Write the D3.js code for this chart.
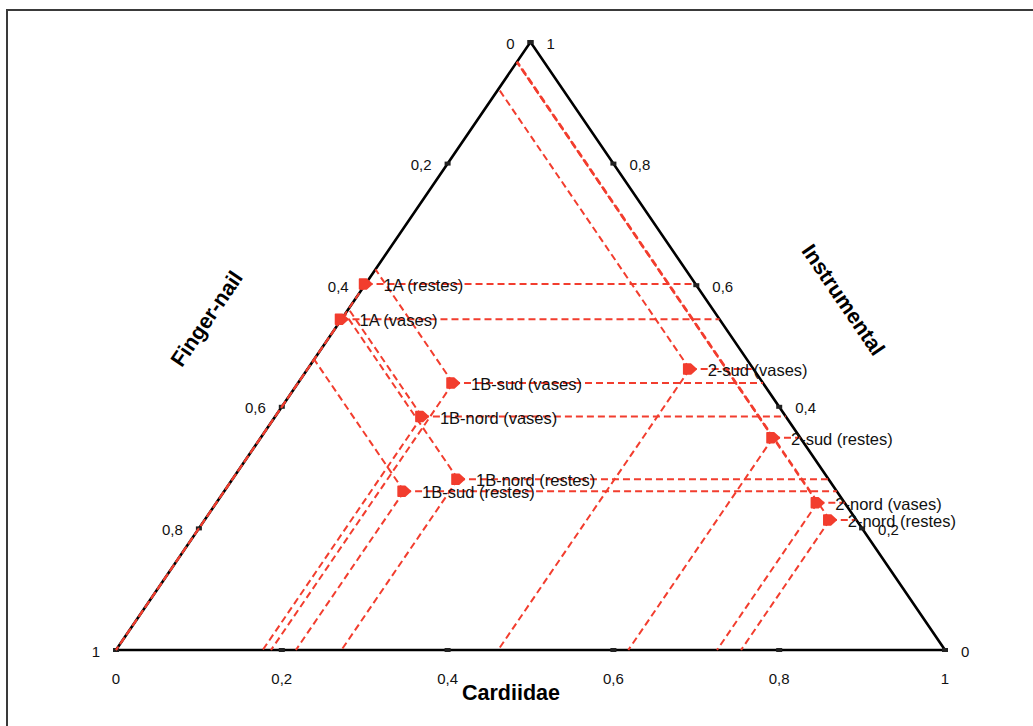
<!DOCTYPE html>
<html>
<head>
<meta charset="utf-8">
<script src="https://cdn.jsdelivr.net/npm/d3@7"></script>
<style>
html,body{margin:0;padding:0;background:#fff;}
svg{display:block;font-family:"Liberation Sans",Arial,sans-serif;}
</style>
</head>
<body>
<svg id="chart" width="1033" height="726"></svg>
<script>
// ---- data ----
const labels = ["1A (restes)","1A (vases)","1B-sud (vases)","1B-nord (vases)","1B-nord (restes)","1B-sud (restes)","2-sud (vases)","2-sud (restes)","2-nord (vases)","2-nord (restes)"];
const cardiidae    = [0.000, 0.000, 0.187, 0.177, 0.272, 0.217, 0.461, 0.618, 0.725, 0.754];
const fingernail   = [0.398, 0.456, 0.374, 0.439, 0.447, 0.522, 0.077, 0.033, 0.033, 0.032];
const instrumental = [0.602, 0.544, 0.439, 0.384, 0.281, 0.261, 0.462, 0.349, 0.242, 0.214];
const tickValues = [0, 0.2, 0.4, 0.6, 0.8, 1];
const tickLabels = ["0","0,2","0,4","0,6","0,8","1"];
const axisTitles = ["Cardiidae","Finger-nail","Instrumental"];

// ---- layout ----
const svg = d3.select("#chart");
const xs = d3.scaleLinear().domain([0,1]).range([116,945]);
const ys = d3.scaleLinear().domain([0,1]).range([650,42]);
// ternary projection: c = cardiidae, i = instrumental
const px = (c,i) => xs(c + i/2);
const py = (c,i) => ys(i);

const RED = "#f23d2e";

// frame
svg.append("rect").attr("x",7).attr("y",10).attr("width",1100).attr("height",800)
  .attr("fill","none").attr("stroke","#3a3a3a").attr("stroke-width",2);

// triangle
const tri = [[0,0],[1,0],[0,1]]; // (c,i)
svg.append("path")
  .attr("d", d3.line()(tri.map(d=>[px(d[0],d[1]),py(d[0],d[1])])) + "Z")
  .attr("fill","none").attr("stroke","#000").attr("stroke-width",2.6).attr("stroke-linejoin","miter");

// ticks
const tickPts = [];
tickValues.forEach((t,k)=>{
  tickPts.push([px(t,0),py(t,0)]);            // bottom (cardiidae)
  tickPts.push([px(0,1-t),py(0,1-t)]);        // left (finger-nail)
  tickPts.push([px(1-t,t),py(1-t,t)]);        // right (instrumental)
});
svg.append("g").selectAll("rect").data(tickPts).join("rect")
  .attr("x",d=>d[0]-3).attr("y",d=>d[1]-2).attr("width",6).attr("height",4)
  .attr("fill","#222");

// tick labels
const tl = svg.append("g").attr("font-size",15).attr("fill","#111");
tickValues.forEach((t,k)=>{
  tl.append("text").attr("x",px(t,0)).attr("y",py(t,0)+28)
    .attr("text-anchor","middle").attr("dominant-baseline","central").text(tickLabels[k]);
  tl.append("text").attr("x",px(0,1-t)-16).attr("y",py(0,1-t)+1)
    .attr("text-anchor","end").attr("dominant-baseline","central").text(tickLabels[k]);
  tl.append("text").attr("x",px(1-t,t)+16).attr("y",py(1-t,t)+1)
    .attr("text-anchor","start").attr("dominant-baseline","central").text(tickLabels[k]);
});

// axis titles
const angle = Math.atan2(ys(0)-ys(1), xs(0.5)-xs(0)) * 180/Math.PI;
svg.append("text").attr("x",511).attr("y",693).attr("text-anchor","middle")
  .attr("dominant-baseline","central").attr("font-size",21.5).attr("font-weight","bold").text(axisTitles[0]);
svg.append("text").attr("transform",`translate(207,319) rotate(${-angle})`).attr("text-anchor","middle")
  .attr("dominant-baseline","central").attr("font-size",21.5).attr("font-weight","bold").text(axisTitles[1]);
svg.append("text").attr("transform",`translate(843,300) rotate(${angle})`).attr("text-anchor","middle")
  .attr("dominant-baseline","central").attr("font-size",21.5).attr("font-weight","bold").text(axisTitles[2]);

// guide lines
const pts = labels.map((l,k)=>({label:l,c:cardiidae[k],f:fingernail[k],i:instrumental[k]}));
const segs = [];
pts.forEach(p=>{
  const x0=px(p.c,p.i), y0=py(p.c,p.i);
  segs.push([x0,y0,px(1-p.i,p.i),py(1-p.i,p.i)]);           // to right edge (instrumental)
  segs.push([x0,y0,px(p.c,0),py(p.c,0)]);                   // to bottom (cardiidae)
  segs.push([x0,y0,px(0,p.i+p.c),py(0,p.i+p.c)]);           // to left edge (finger-nail)
});
svg.append("g").selectAll("line").data(segs).join("line")
  .attr("x1",d=>d[0]).attr("y1",d=>d[1]).attr("x2",d=>d[2]).attr("y2",d=>d[3])
  .attr("stroke",RED).attr("stroke-width",2).attr("stroke-dasharray","7,4");

// markers
const marker = "M-6,-5 L1,-5 L6.5,0 L1,5 L-6,5 Z";
svg.append("g").selectAll("path").data(pts).join("path")
  .attr("d",marker).attr("transform",d=>`translate(${px(d.c,d.i)},${py(d.c,d.i)})`)
  .attr("fill",RED).attr("stroke",RED).attr("stroke-width",1.5).attr("stroke-linejoin","round");

// point labels
svg.append("g").selectAll("text").data(pts).join("text")
  .attr("x",d=>px(d.c,d.i)+18).attr("y",d=>py(d.c,d.i)+1)
  .attr("dominant-baseline","central").attr("font-size",16.5).attr("fill","#111")
  .text(d=>d.label);
</script>
</body>
</html>
